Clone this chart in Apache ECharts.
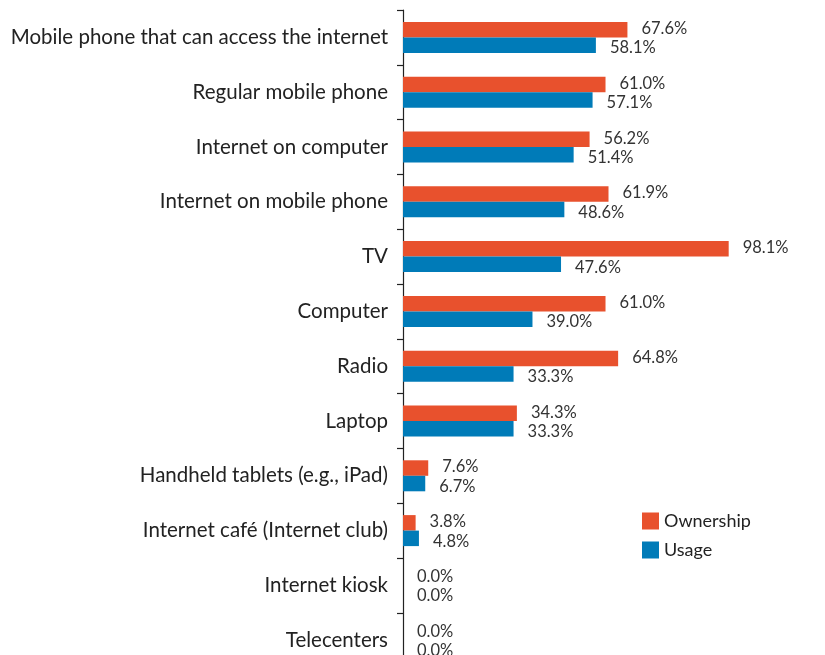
<!DOCTYPE html>
<html>
<head>
<meta charset="utf-8">
<script src="https://cdn.jsdelivr.net/npm/echarts@6/dist/echarts.min.js"></script>
<style>html,body{margin:0;padding:0;background:#fff;}#c{width:825px;height:655px;}</style>
</head>
<body>
<div id="c"></div>
<script>
const categories = [
  "Mobile phone that can access the internet",
  "Regular mobile phone",
  "Internet on computer",
  "Internet on mobile phone",
  "TV",
  "Computer",
  "Radio",
  "Laptop",
  "Handheld tablets (e.g., iPad)",
  "Internet café (Internet club)",
  "Internet kiosk",
  "Telecenters"
];
const ownership = [67.6, 61.0, 56.2, 61.9, 98.1, 61.0, 64.8, 34.3, 7.6, 3.8, 0.0, 0.0];
const usage = [58.1, 57.1, 51.4, 48.6, 47.6, 39.0, 33.3, 33.3, 6.7, 4.8, 0.0, 0.0];
const seriesNames = ["Ownership", "Usage"];

const chart = echarts.init(document.getElementById('c'));
const fontFam = 'Lato, "Open Sans", sans-serif';
const fmt = p => p.value.toFixed(1) + '%';
chart.setOption({
  animation: false,
  textStyle: { fontFamily: fontFam },
  grid: { left: 403, top: 10, width: 332, height: 657.6, outerBoundsMode: 'none', containLabel: false },
  legend: {
    orient: 'vertical', left: 637, top: 507,
    icon: 'rect', itemWidth: 17, itemHeight: 17, itemGap: 11,
    textStyle: { fontSize: 18, color: '#222', fontFamily: fontFam },
    data: seriesNames
  },
  xAxis: { type: 'value', min: 0, max: 100, show: false, splitLine: { show: false } },
  yAxis: {
    type: 'category', inverse: true, data: categories,
    axisLine: { lineStyle: { color: '#222', width: 1.2 } },
    axisTick: { show: true, length: 6, inside: false, lineStyle: { color: '#222', width: 1.2 } },
    axisLabel: { fontSize: 20.5, color: '#222', margin: 15, fontFamily: fontFam }
  },
  series: [
    {
      name: seriesNames[0], type: 'bar', data: ownership, barWidth: 15.5, barGap: '0%',
      itemStyle: { color: '#E8512D' },
      label: { show: true, position: 'right', distance: 14, offset: [0, -1], formatter: fmt, fontSize: 16.5, color: '#333', fontFamily: fontFam }
    },
    {
      name: seriesNames[1], type: 'bar', data: usage, barWidth: 15.5, barGap: '0%',
      itemStyle: { color: '#007BB8' },
      label: { show: true, position: 'right', distance: 14, offset: [0, 3], formatter: fmt, fontSize: 16.5, color: '#333', fontFamily: fontFam }
    }
  ]
});
</script>
</body>
</html>
